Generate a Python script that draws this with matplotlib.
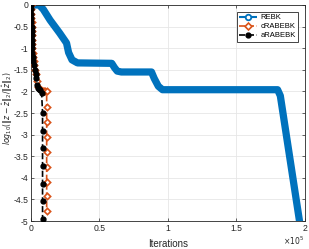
import matplotlib
matplotlib.use("Agg")
import matplotlib.pyplot as plt
from matplotlib.lines import Line2D

plt.rcParams['font.family'] = ['Liberation Sans', 'DejaVu Sans']
plt.rcParams['mathtext.fontset'] = 'dejavusans'

# REBK (breakpoints of the curve)
rebk_x = [2000, 6000, 9000, 14000, 21000, 26000, 27500, 30000, 34000, 59000,
          61000, 63000, 66000, 88000, 90000, 93000, 96000, 180000, 182000,
          196000]
rebk_y = [0.0, 0.0, -0.1, -0.35, -0.65, -0.88, -1.1, -1.27, -1.34, -1.35,
          -1.45, -1.53, -1.55, -1.55, -1.7, -1.88, -1.96, -1.96, -2.1, -5.0]

# cRABEBK
crab_x = [0, 150, 250, 350, 450, 550, 650, 750, 850, 950, 1050, 1200, 1500,
          2000, 2600, 3200, 3800, 4500, 5500, 6500, 7500, 8500, 9500, 10500,
          11500, 11500, 11500, 11500, 11500, 11500, 11500, 11500, 11500]
crab_y = [0.0, -0.1, -0.2, -0.3, -0.4, -0.5, -0.6, -0.7, -0.8, -0.9, -1.0,
          -1.1, -1.2, -1.3, -1.4, -1.5, -1.6, -1.75, -1.9, -1.95, -1.97, -1.98,
          -1.98, -1.99, -1.98, -2.35, -2.70, -3.05, -3.40, -3.74, -4.09, -4.42,
          -4.76]

# aRABEBK
arab_x = [0, 100, 200, 300, 400, 500, 600, 700, 800, 900, 1000, 1100, 1300,
          1700, 2300, 3000, 3500, 4000, 4500, 5000, 6000, 7000, 7800, 8500,
          8500, 8500, 8500, 8500, 8500, 8500]
arab_y = [0.0, -0.1, -0.2, -0.3, -0.4, -0.5, -0.6, -0.7, -0.8, -0.9, -1.0,
          -1.1, -1.2, -1.3, -1.4, -1.5, -1.6, -1.7, -1.85, -1.92, -1.95, -1.97,
          -2.03, -2.49, -2.92, -3.32, -3.73, -4.13, -4.53, -4.95]

blue = '#0072BD'
orange = '#D95319'

fig = plt.figure(figsize=(3.09, 2.49), dpi=100)
ax = fig.add_axes([0.100, 0.112, 0.887, 0.868])

ax.plot(rebk_x, rebk_y, '-', color=blue, lw=5.2, solid_capstyle='round',
        solid_joinstyle='round', zorder=2)
ax.plot(crab_x, crab_y, '--', color=orange, lw=1.2, marker='D', ms=3.2,
        mfc='white', mec=orange, mew=1.2, zorder=3)
ax.plot(arab_x, arab_y, '--', color='black', lw=1.2, marker='o', ms=3.5,
        mfc='black', mec='black', zorder=4)

ax.set_xlim(0, 200000)
ax.set_ylim(-5, 0)
ax.set_xticks([0, 50000, 100000, 150000, 200000])
ax.set_xticklabels(['0', '0.5', '1', '1.5', '2'])
ax.set_yticks([0, -0.5, -1, -1.5, -2, -2.5, -3, -3.5, -4, -4.5, -5])
ax.set_yticklabels(['0', '-0.5', '-1', '-1.5', '-2', '-2.5', '-3', '-3.5',
                    '-4', '-4.5', '-5'])
ax.tick_params(labelsize=6.2, direction='in', length=2.5, width=0.5,
               colors='#262626', top=True, right=True, pad=2)
ax.grid(True, color='#E6E6E6', lw=0.6)
ax.set_axisbelow(True)
for s in ax.spines.values():
    s.set_color('#262626')
    s.set_linewidth(0.6)

ax.set_xlabel('Iterations', fontsize=7, color='#262626')
ax.xaxis.set_label_coords(0.5, -0.085)
# y label as figure text, centred left of the tick labels
fig.text(0.024, 0.565, r'$log_{10}(\|z-\hat{z}\|_2/\|\hat{z}\|_2)$', fontsize=5.6,
         color='#262626', rotation=90, ha='center', va='center')
fig.text(0.95, 0.018, r'$\times10^5$', fontsize=5.5, color='#262626', ha='center')

handles = [
    Line2D([], [], ls='--', color=blue, lw=1.5, marker='o', ms=4, mfc='white',
           mec=blue, mew=1.3),
    Line2D([], [], ls='--', color=orange, lw=1.2, marker='D', ms=3.5,
           mfc='white', mec=orange, mew=1.2),
    Line2D([], [], ls='--', color='black', lw=1.2, marker='o', ms=3.5,
           mfc='black', mec='black'),
]
leg = ax.legend(handles, ['REBK', 'cRABEBK', 'aRABEBK'], loc='upper right',
                fontsize=5.5, handlelength=2.4, handletextpad=0.4,
                borderpad=0.3, labelspacing=0.2, fancybox=False,
                framealpha=1, edgecolor='#262626', borderaxespad=0.9)
leg.get_frame().set_linewidth(0.6)

fig.savefig('out.png', dpi=100)
